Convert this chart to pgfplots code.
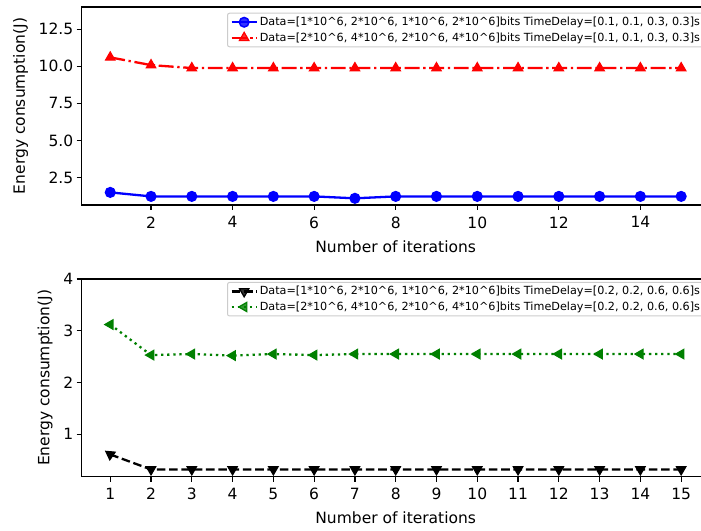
\documentclass[border=0pt]{standalone}
\usepackage{pgfplots}
\pgfplotsset{compat=1.18}
\usepackage{fontspec}
\setmainfont{DejaVu Sans}

\definecolor{mplblue}{RGB}{0,0,255}
\definecolor{mplred}{RGB}{255,0,0}
\definecolor{mplgreen}{RGB}{0,128,0}
\definecolor{legframe}{RGB}{204,204,204}

\newcommand{\pw}{\textasciicircum}

\pgfplotsset{
  iterstyle/.style={
    scale only axis,
    width=628pt,
    xmin=0.3, xmax=15.7,
    axis line style={line width=1.2pt},
    tick align=outside,
    major tick length=5pt,
    tick pos=left,
    every tick/.style={black, line width=1.2pt},
    tick label style={font=\fontsize{15.5}{18}\selectfont},
    xticklabel style={yshift=-3pt},
    label style={font=\fontsize{15.5}{18}\selectfont},
    /pgf/number format/assume math mode=true,
    xlabel={Number of iterations},
    ylabel={Energy consumption(J)},
    legend cell align=left,
    legend style={
      anchor=north west,
      font=\fontsize{11.2}{13}\selectfont,
      draw=legframe, line width=1pt,
      rounded corners=2pt,
      fill=white, fill opacity=0.8, text opacity=1,
      inner xsep=3pt, inner ysep=2pt,
      row sep=1.5pt,
    },
    legend image code/.code={
      \draw[#1, sharp corners, mark repeat=2, mark phase=2]
        plot coordinates {(0pt,0pt) (12.5pt,0pt) (25pt,0pt)};
    },
  },
}

\begin{document}
\begin{tikzpicture}
\path[use as bounding box] (0pt,0pt) rectangle (701pt,530pt);

% upper panel: time delay 0.1/0.3 s
\begin{axis}[
  iterstyle,
  at={(81.7pt,325pt)}, anchor=south west,
  height=198pt,
  ymin=0.64, ymax=14,
  xtick={2,4,...,14},
  ytick={2.5,5,7.5,10,12.5},
  yticklabel style={/pgf/number format/.cd, fixed, fixed zerofill, precision=1},
  xlabel style={at={(axis description cs:0.5,-0.21)}, anchor=center},
  ylabel style={at={(axis description cs:-0.0971,0.5)}, anchor=center},
  legend style={at={(axis description cs:0.2314,0.971)}},
]
\addplot[color=mplblue, line width=2.3pt, mark=*, mark size=4.8pt,
         mark options={solid, line width=1.5pt}]
  coordinates {(1,1.49) (2,1.22) (3,1.22) (4,1.22) (5,1.22) (6,1.22) (7,1.09) (8,1.22)
               (9,1.22) (10,1.22) (11,1.22) (12,1.22) (13,1.22) (14,1.22) (15,1.22)};
\addlegendentry{Data=[1*10\pw6, 2*10\pw6, 1*10\pw6, 2*10\pw6]bits TimeDelay=[0.1, 0.1, 0.3, 0.3]s}
\addplot[color=mplred, line width=2.3pt, dash pattern=on 14.9pt off 3.7pt on 2.3pt off 3.7pt,
         mark=triangle*, mark size=5.4pt, mark options={solid, line width=1.2pt}]
  coordinates {(1,10.6) (2,10.08) (3,9.88) (4,9.88) (5,9.88) (6,9.88) (7,9.88) (8,9.88)
               (9,9.88) (10,9.88) (11,9.88) (12,9.88) (13,9.88) (14,9.88) (15,9.88)};
\addlegendentry{Data=[2*10\pw6, 4*10\pw6, 2*10\pw6, 4*10\pw6]bits TimeDelay=[0.1, 0.1, 0.3, 0.3]s}
\end{axis}

% lower panel: time delay 0.2/0.6 s
\begin{axis}[
  iterstyle,
  at={(81.7pt,53.3pt)}, anchor=south west,
  height=197.7pt,
  ymin=0.18, ymax=4,
  xtick={1,...,15},
  ytick={1,2,3,4},
  xlabel style={at={(axis description cs:0.5,-0.21)}, anchor=center},
  ylabel style={at={(axis description cs:-0.0584,0.5)}, anchor=center},
  legend style={at={(axis description cs:0.2314,0.985)}},
]
\addplot[color=black, line width=2.3pt, dash pattern=on 8.6pt off 3.7pt,
         mark=triangle*, mark size=5.4pt, mark repeat=1, mark phase=2,
         mark options={solid, rotate=180, line width=1.2pt}]
  coordinates {(1,0.61) (2,0.32) (3,0.32) (4,0.32) (5,0.32) (6,0.32) (7,0.32) (8,0.32)
               (9,0.32) (10,0.32) (11,0.32) (12,0.32) (13,0.32) (14,0.32) (15,0.32)};
\addlegendentry{Data=[1*10\pw6, 2*10\pw6, 1*10\pw6, 2*10\pw6]bits TimeDelay=[0.2, 0.2, 0.6, 0.6]s}
\addplot[color=mplgreen, line width=2.3pt, dash pattern=on 2.3pt off 3.8pt,
         mark=triangle*, mark size=5.4pt, mark options={solid, rotate=90, line width=1.2pt}]
  coordinates {(1,3.12) (2,2.53) (3,2.55) (4,2.52) (5,2.55) (6,2.53) (7,2.55) (8,2.55)
               (9,2.55) (10,2.55) (11,2.55) (12,2.55) (13,2.55) (14,2.55) (15,2.55)};
\addlegendentry{Data=[2*10\pw6, 4*10\pw6, 2*10\pw6, 4*10\pw6]bits TimeDelay=[0.2, 0.2, 0.6, 0.6]s}
% first point of the black series is drawn tilted towards the upper left
\addplot[forget plot, only marks, color=black, mark=triangle*, mark size=5.4pt,
         mark options={solid, rotate=55, line width=1.2pt}]
  coordinates {(1,0.61)};
\end{axis}
\end{tikzpicture}
\end{document}
